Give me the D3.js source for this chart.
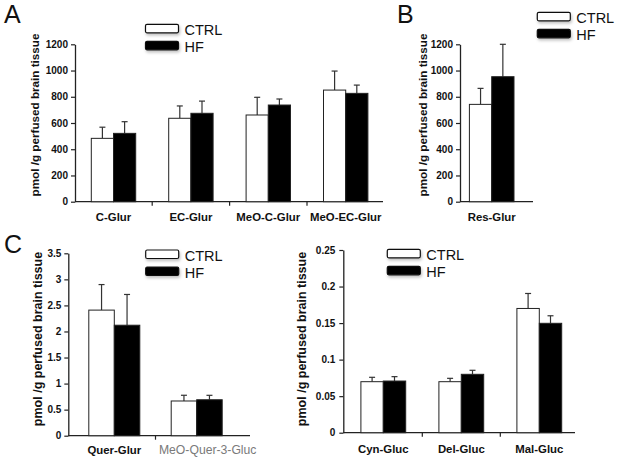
<!DOCTYPE html>
<html>
<head>
<meta charset="utf-8">
<script src="https://cdn.jsdelivr.net/npm/d3@7"></script>
<style>
  html, body { margin: 0; padding: 0; background: #fff; }
  svg { display: block; }
  text { font-family: "Liberation Sans", Arial, sans-serif; }
</style>
</head>
<body>
<svg id="chart" width="621" height="461"></svg>
<script>
// ---------------- DATA ----------------
const seriesNames = ["CTRL", "HF"];
const yTitle = "pmol /g perfused brain tissue";

const catsA = ["C-Glur", "EC-Glur", "MeO-C-Glur", "MeO-EC-Glur"];
const ctrlA = [483, 636, 661, 851];
const ctrlErrA = [85, 94, 135, 145];
const hfA = [521, 674, 737, 826];
const hfErrA = [89, 93, 46, 63];
const ticksA = [0, 200, 400, 600, 800, 1000, 1200];

const catsB = ["Res-Glur"];
const ctrlB = [742];
const ctrlErrB = [122];
const hfB = [953];
const hfErrB = [247];
const ticksB = [0, 200, 400, 600, 800, 1000, 1200];

const catsC1 = ["Quer-Glur", "MeO-Quer-3-Gluc"];
const ctrlC1 = [2.41, 0.666];
const ctrlErrC1 = [0.49, 0.11];
const hfC1 = [2.12, 0.69];
const hfErrC1 = [0.59, 0.085];
const ticksC1 = [0, 0.5, 1, 1.5, 2, 2.5, 3, 3.5];
const tickLabelsC1 = ["0", "0.5", "1", "1.5", "2", "2.5", "3", "3.5"];

const catsC2 = ["Cyn-Gluc", "Del-Gluc", "Mal-Gluc"];
const ctrlC2 = [0.0698, 0.0698, 0.170];
const ctrlErrC2 = [0.006, 0.0046, 0.0205];
const hfC2 = [0.0707, 0.0799, 0.1497];
const hfErrC2 = [0.006, 0.0055, 0.0103];
const ticksC2 = [0, 0.05, 0.1, 0.15, 0.2, 0.25];
const tickLabelsC2 = ["0", "0.05", "0.1", "0.15", "0.2", "0.25"];

// ---------------- DRAW ----------------
const svg = d3.select("#chart");
const defs = svg.append("defs");
const flt = defs.append("filter").attr("id", "shadow")
  .attr("x", "-30%").attr("y", "-50%").attr("width", "160%").attr("height", "220%");
flt.append("feDropShadow").attr("dx", 1).attr("dy", 2).attr("stdDeviation", 1.5)
  .attr("flood-color", "#000").attr("flood-opacity", 0.25);

const AXIS = "#222";

function panel(cfg) {
  const g = svg.append("g");
  const y = d3.scaleLinear().domain([cfg.ticks[0], cfg.ticks[cfg.ticks.length - 1]])
    .range([cfg.y0, cfg.yTop]);
  const x = d3.scaleBand().domain(cfg.cats).range(cfg.xRange).paddingInner(0).paddingOuter(0);
  const xs = d3.scaleBand().domain(seriesNames).range([0, cfg.barW * 2]);

  // x axis line
  g.append("line").attr("x1", cfg.axisX).attr("x2", cfg.axisEnd)
    .attr("y1", cfg.y0).attr("y2", cfg.y0)
    .attr("stroke", AXIS).attr("stroke-width", 1.3);

  // category boundary ticks
  const bounds = cfg.cats.slice(1).map(c => x(c));
  g.selectAll(".bt").data(bounds).join("line")
    .attr("x1", d => d).attr("x2", d => d)
    .attr("y1", cfg.y0).attr("y2", cfg.y0 + 4)
    .attr("stroke", AXIS).attr("stroke-width", 1.2);

  // category labels via axis
  const xAxis = g.append("g").attr("transform", `translate(0,${cfg.y0})`)
    .call(d3.axisBottom(x).tickSize(0).tickPadding(cfg.labelPad));
  xAxis.select(".domain").remove();
  xAxis.selectAll("text")
    .attr("font-family", "Liberation Sans, Arial, sans-serif")
    .attr("font-size", d => (cfg.grayCats && cfg.grayCats.includes(d)) ? 12.2 : 11.4)
    .attr("font-weight", d => (cfg.grayCats && cfg.grayCats.includes(d)) ? "normal" : "bold")
    .attr("fill", d => (cfg.grayCats && cfg.grayCats.includes(d)) ? "#7a7a7a" : "#111")
    .attr("dx", d => (cfg.grayCats && cfg.grayCats.includes(d)) ? cfg.grayDx : 0);

  // y axis
  const yAxis = g.append("g").attr("transform", `translate(${cfg.axisX},0)`)
    .call(d3.axisLeft(y).tickValues(cfg.ticks).tickSize(4).tickSizeOuter(0).tickPadding(cfg.tickPad)
      .tickFormat((d, i) => cfg.tickLabels ? cfg.tickLabels[i] : d3.format("d")(d)));
  yAxis.select(".domain").attr("stroke", AXIS).attr("stroke-width", 1.3);
  yAxis.selectAll(".tick line").attr("stroke", AXIS).attr("stroke-width", 1.2);
  yAxis.selectAll("text")
    .attr("font-family", "Liberation Sans, Arial, sans-serif")
    .attr("font-size", 10).attr("font-weight", "bold").attr("fill", "#111");

  // y title
  g.append("text")
    .attr("transform", `translate(${cfg.titleX},${cfg.titleY}) rotate(-90)`)
    .attr("text-anchor", "middle")
    .attr("font-size", cfg.titleSize).attr("font-weight", "bold").attr("fill", "#111")
    .text(yTitle);

  // bars
  const rows = [];
  cfg.cats.forEach((c, i) => {
    rows.push({ c, s: "CTRL", v: cfg.ctrl[i], e: cfg.ctrlErr[i] });
    rows.push({ c, s: "HF", v: cfg.hf[i], e: cfg.hfErr[i] });
  });
  const bx = d => x(d.c) + x.bandwidth() / 2 - cfg.barW + xs(d.s) + cfg.shift;

  // error bars (upper only)
  const eb = g.selectAll(".eb").data(rows).join("g");
  eb.append("line")
    .attr("x1", d => bx(d) + cfg.barW / 2).attr("x2", d => bx(d) + cfg.barW / 2)
    .attr("y1", d => y(d.v)).attr("y2", d => y(d.v + d.e))
    .attr("stroke", "#333").attr("stroke-width", 1.2);
  eb.append("line")
    .attr("x1", d => bx(d) + cfg.barW / 2 - 3).attr("x2", d => bx(d) + cfg.barW / 2 + 3)
    .attr("y1", d => y(d.v + d.e)).attr("y2", d => y(d.v + d.e))
    .attr("stroke", "#333").attr("stroke-width", 1.2);

  g.selectAll(".bar").data(rows).join("rect")
    .attr("x", d => bx(d)).attr("width", cfg.barW)
    .attr("y", d => y(d.v)).attr("height", d => y(0) - y(d.v))
    .attr("fill", d => d.s === "CTRL" ? "#fff" : "#000")
    .attr("stroke", "#222").attr("stroke-width", 1);

  // legend
  const lg = g.append("g").attr("transform", `translate(${cfg.legX},${cfg.legY})`);
  seriesNames.forEach((s, i) => {
    lg.append("rect").attr("x", 0).attr("y", i * 17).attr("width", 33).attr("height", 8.5)
      .attr("rx", 1.5)
      .attr("fill", s === "CTRL" ? "#fff" : "#000").attr("stroke", "#111").attr("stroke-width", 1.2)
      .attr("filter", "url(#shadow)");
    lg.append("text").attr("x", 39).attr("y", i * 17 + 10.5)
      .attr("font-size", 14.5).attr("fill", "#111").text(s);
  });

  // panel letter
  if (cfg.letter) {
    g.append("text").attr("x", cfg.letterX).attr("y", cfg.letterY)
      .attr("font-size", 25).attr("fill", "#111").text(cfg.letter);
  }
}

panel({
  cats: catsA, ctrl: ctrlA, ctrlErr: ctrlErrA, hf: hfA, hfErr: hfErrA, ticks: ticksA,
  y0: 201.7, yTop: 44.3, axisX: 75, axisEnd: 383, xRange: [74.8, 384.4], barW: 22.2, shift: 0,
  labelPad: 11, tickPad: 3, titleX: 38.5, titleY: 115, titleSize: 11.7,
  legX: 145.5, legY: 24.3, letter: "A", letterX: 4, letterY: 23
});
panel({
  cats: catsB, ctrl: ctrlB, ctrlErr: ctrlErrB, hf: hfB, hfErr: hfErrB, ticks: ticksB,
  y0: 201.7, yTop: 44.3, axisX: 460, axisEnd: 533, xRange: [460, 523.4], barW: 22.3, shift: 0,
  labelPad: 11, tickPad: 3, titleX: 426.5, titleY: 115, titleSize: 11.7,
  legX: 537.3, legY: 12.3, letter: "B", letterX: 397, letterY: 23
});
panel({
  cats: catsC1, ctrl: ctrlC1, ctrlErr: ctrlErrC1, hf: hfC1, hfErr: hfErrC1, ticks: ticksC1,
  tickLabels: tickLabelsC1, grayCats: ["MeO-Quer-3-Gluc"], grayDx: 11,
  y0: 435.7, yTop: 253.3, axisX: 68.3, axisEnd: 250, xRange: [73.1, 237.9], barW: 25.5, shift: 0,
  labelPad: 10, tickPad: 3, titleX: 41.5, titleY: 339, titleSize: 12.5,
  legX: 145.7, legY: 250, letter: "C", letterX: 4, letterY: 253
});
panel({
  cats: catsC2, ctrl: ctrlC2, ctrlErr: ctrlErrC2, hf: hfC2, hfErr: hfErrC2, ticks: ticksC2,
  tickLabels: tickLabelsC2,
  y0: 432.7, yTop: 250, axisX: 343.3, axisEnd: 575, xRange: [344.3, 578.3], barW: 22.4, shift: 0,
  labelPad: 12, tickPad: 4, titleX: 306, titleY: 339, titleSize: 12.5,
  legX: 387.3, legY: 249.3
});
</script>
</body>
</html>
